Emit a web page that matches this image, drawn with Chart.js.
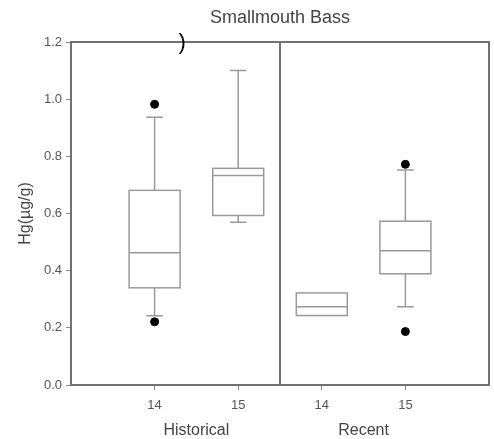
<!DOCTYPE html>
<html>
<head>
<meta charset="utf-8">
<script src="https://cdn.jsdelivr.net/npm/chart.js@4/dist/chart.umd.min.js"></script>
<style>
  html, body { margin: 0; padding: 0; background: #fff; }
  #wrap { width: 494px; height: 439px; }
</style>
</head>
<body>
<div id="wrap"><canvas id="bassChart"></canvas></div>
<script>
// Smallmouth Bass Hg box plots
const years = ["14", "15", "14", "15"];
const periods = ["Historical", "Recent"];
const q1 = [0.340, 0.593, 0.243, 0.389];
const medians = [0.463, 0.733, 0.274, 0.470];
const q3 = [0.681, 0.758, 0.322, 0.573];
const whiskerLow = [0.242, 0.569, null, 0.274];
const whiskerHigh = [0.937, 1.100, null, 0.752];
const outliers = [[0.982, 0.221], [], [], [0.772, 0.187]];

const FONT = "'Liberation Sans', Arial, sans-serif";

// each box sits at x = index + 1, the two periods split at 2.5
const outlierPoints = [];
outliers.forEach((vals, i) => vals.forEach(v => outlierPoints.push({ x: i + 1, y: v })));

const boxPlugin = {
  id: "boxes",
  afterDatasetsDraw(chart) {
    const { ctx, scales: { x, y }, chartArea: area } = chart;
    ctx.save();
    ctx.strokeStyle = "#9a9a9a";
    ctx.lineWidth = 1.5;
    const halfBox = x.getPixelForValue(0.305) - x.getPixelForValue(0);
    const halfCap = x.getPixelForValue(0.1) - x.getPixelForValue(0);
    years.forEach((yr, i) => {
      const cx = x.getPixelForValue(i + 1);
      const top = y.getPixelForValue(q3[i]), bot = y.getPixelForValue(q1[i]);
      ctx.strokeRect(cx - halfBox, top, halfBox * 2, bot - top);
      const med = y.getPixelForValue(medians[i]);
      ctx.beginPath();
      ctx.moveTo(cx - halfBox, med); ctx.lineTo(cx + halfBox, med);
      [[whiskerHigh[i], top], [whiskerLow[i], bot]].forEach(([w, edge]) => {
        if (w == null) return;
        const wy = y.getPixelForValue(w);
        ctx.moveTo(cx, edge); ctx.lineTo(cx, wy);
        ctx.moveTo(cx - halfCap, wy); ctx.lineTo(cx + halfCap, wy);
      });
      ctx.stroke();
    });

    // frame + period divider
    ctx.strokeStyle = "#707070";
    ctx.lineWidth = 2;
    ctx.strokeRect(area.left, area.top, area.right - area.left, area.bottom - area.top);
    const dx = x.getPixelForValue(2.5);
    ctx.beginPath();
    ctx.moveTo(dx, area.top); ctx.lineTo(dx, area.bottom);
    ctx.stroke();

    // titles
    ctx.fillStyle = "#444";
    ctx.textAlign = "center";
    ctx.textBaseline = "middle";
    ctx.font = "18px " + FONT;
    ctx.fillText("Smallmouth Bass", (area.left + area.right) / 2, 18);
    ctx.font = "16px " + FONT;
    periods.forEach((p, k) => ctx.fillText(p, x.getPixelForValue(1.5 + k * 2), 431));
    ctx.save();
    ctx.translate(26, (area.top + area.bottom) / 2);
    ctx.rotate(-Math.PI / 2);
    ctx.fillText("Hg(\u00b5g/g)", 0, 0);
    ctx.restore();

    // stray mark in the original figure
    ctx.fillStyle = "#000";
    ctx.font = "22px " + FONT;
    ctx.fillText(")", x.getPixelForValue(1.33), y.getPixelForValue(1.195));
    ctx.restore();
  }
};

new Chart(document.getElementById("bassChart").getContext("2d"), {
  type: "scatter",
  data: {
    datasets: [{
      label: "Outliers",
      data: outlierPoints,
      pointRadius: 4,
      pointBackgroundColor: "#000",
      pointBorderColor: "#000"
    }]
  },
  options: {
    responsive: true,
    maintainAspectRatio: false,
    animation: false,
    layout: { padding: { top: 42, right: 5, left: 0, bottom: 0 } },
    plugins: { legend: { display: false }, tooltip: { enabled: false } },
    scales: {
      x: {
        type: "linear", min: 0, max: 5,
        afterBuildTicks: s => { s.ticks = years.map((_, i) => ({ value: i + 1 })); },
        afterFit: s => { s.height = 54; },
        ticks: {
          callback: (v, i) => years[i],
          color: "#555", padding: 8,
          font: { family: FONT, size: 13 }
        },
        grid: { drawOnChartArea: false, tickLength: 5, color: "#888" },
        border: { display: false }
      },
      y: {
        min: 0, max: 1.2,
        afterFit: s => { s.width = 71; },
        ticks: {
          stepSize: 0.2,
          callback: v => v.toFixed(1),
          color: "#555", padding: 4,
          font: { family: FONT, size: 13 }
        },
        grid: { drawOnChartArea: false, tickLength: 5, color: "#888" },
        border: { display: false }
      }
    }
  },
  plugins: [boxPlugin]
});
</script>
</body>
</html>
